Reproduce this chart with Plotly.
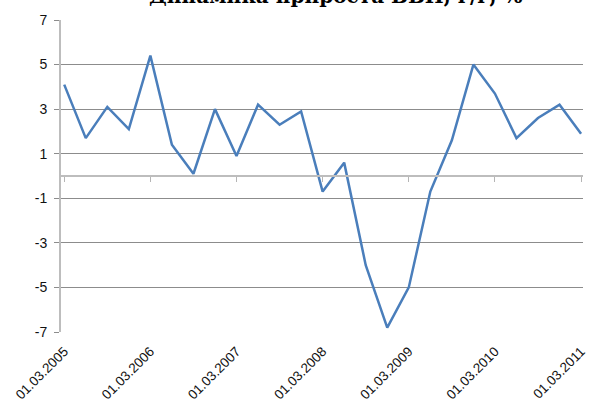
import plotly.graph_objects as go

quarters = [f"01.{m:02d}.{y}" for y in range(2005, 2012) for m in (3, 6, 9, 12)][:25]
gdp_growth = [4.1, 1.7, 3.1, 2.1, 5.4, 1.4, 0.1, 3.0, 0.9, 3.2, 2.3, 2.9,
              -0.7, 0.6, -4.0, -6.8, -5.0, -0.7, 1.6, 5.0, 3.7, 1.7, 2.6, 3.2, 1.9]
y_ticks = [-7, -5, -3, -1, 1, 3, 5, 7]
title_text = "Динамика прироста ВВП, г/г, %"

xs = list(range(len(quarters)))
tickvals = xs[::4]
ticktext = quarters[::4]
xrange = [-0.15, 24.09]

fig = go.Figure()
fig.add_trace(go.Scatter(x=xs, y=gdp_growth, mode="lines",
                         line=dict(color="#4A7EBB", width=2.5),
                         xaxis="x", yaxis="y", showlegend=False))
# helper trace for the zero-level category axis
fig.add_trace(go.Scatter(x=xs, y=gdp_growth, mode="lines", opacity=0,
                         hoverinfo="skip", xaxis="x2", yaxis="y", showlegend=False))

tick_font = dict(family="Liberation Sans", size=13.5, color="#111111")

fig.update_layout(
    width=595, height=403,
    margin=dict(l=61, r=12, t=20, b=71),
    paper_bgcolor="white", plot_bgcolor="white",
    xaxis=dict(range=xrange, tickmode="array", tickvals=tickvals, ticktext=ticktext,
               tickangle=-45, showgrid=False, showline=False, zeroline=False,
               ticks="", tickfont=tick_font, ticklabelstandoff=8, automargin=False),
    xaxis2=dict(range=xrange, overlaying="x", anchor="free", position=0.5, side="bottom",
                tickmode="array", tickvals=tickvals, ticks="outside", ticklen=5,
                tickcolor="#b5b5b5", tickwidth=1, showline=True, linecolor="#bdbdbd",
                linewidth=1.5, showticklabels=False, showgrid=False, zeroline=False,
                automargin=False),
    yaxis=dict(range=[-7, 7], tickmode="array", tickvals=y_ticks,
               ticktext=[str(v) for v in y_ticks], showgrid=True,
               gridcolor="#8c8c8c", gridwidth=1, showline=True, linecolor="#bdbdbd",
               linewidth=2, ticks="outside", ticklen=5, tickcolor="#8c8c8c",
               zeroline=False, tickfont=dict(family="Liberation Sans", size=14, color="#111111"),
               ticklabelstandoff=4, automargin=False),
    annotations=[dict(text=f"<b>{title_text}</b>", xref="paper", yref="paper",
                      x=0.525, y=1.033, xanchor="center", yanchor="bottom",
                      showarrow=False,
                      font=dict(family="DejaVu Serif", size=20, color="#000000"))],
)

fig.write_html("out.html", config={"displayModeBar": False},
               post_script="document.body.style.margin='0';")
